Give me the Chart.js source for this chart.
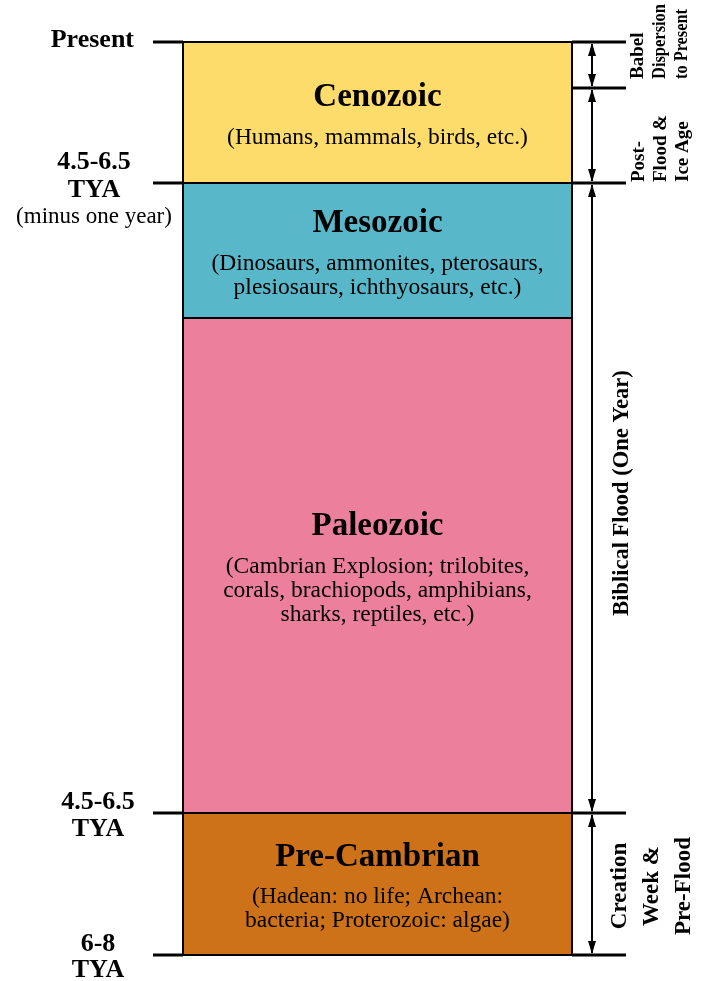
<!DOCTYPE html>
<html>
<head>
<meta charset="utf-8">
<script src="https://cdn.jsdelivr.net/npm/chart.js@4/dist/chart.umd.min.js"></script>
<style>
  html, body { margin: 0; padding: 0; background: #fff; }
  canvas { display: block; }
</style>
</head>
<body>
<canvas id="geo" width="705" height="981"></canvas>
<script>
// eras, listed bottom to top (stack order)
const eraNames = ['Pre-Cambrian', 'Paleozoic', 'Mesozoic', 'Cenozoic'];
const eraThickness = [142, 495, 135, 141];
const eraNotes = [
  ['(Hadean: no life; Archean:', 'bacteria; Proterozoic: algae)'],
  ['(Cambrian Explosion; trilobites,', 'corals, brachiopods, amphibians,', 'sharks, reptiles, etc.)'],
  ['(Dinosaurs, ammonites, pterosaurs,', 'plesiosaurs, ichthyosaurs, etc.)'],
  ['(Humans, mammals, birds, etc.)']
];
const eraColors = ['#CD7219', '#EC809C', '#58B7C9', '#FDDC6B'];

// age labels on the left, at stack positions
const ageTicks = [0, 142, 772, 913];
const ageLabels = [['6-8', 'TYA'], ['4.5-6.5', 'TYA'], ['4.5-6.5', 'TYA', '(minus one year)'], ['Present']];

// biblical events on the right
const eventNames = [
  ['Creation', 'Week &', 'Pre-Flood'],
  ['Biblical Flood (One Year)'],
  ['Post-', 'Flood &', 'Ice Age'],
  ['Babel', 'Dispersion', 'to Present']
];
const eventStart = [0, 142, 772, 867];
const eventEnd = [142, 772, 867, 913];

const SERIF = '"Liberation Serif", "Times New Roman", serif';
const TOTAL = eraThickness.reduce((a, b) => a + b, 0);

const overlay = {
  id: 'overlay',
  afterDatasetsDraw(chart) {
    const ctx = chart.ctx;
    const y = chart.scales.y;
    const area = chart.chartArea;
    const L = area.left, R = area.right, mid = (L + R) / 2;
    ctx.save();
    ctx.fillStyle = '#000';
    ctx.strokeStyle = '#000';

    // era boundaries + outline
    ctx.lineWidth = 2;
    let acc = 0;
    const bounds = [0];
    eraThickness.forEach(v => { acc += v; bounds.push(acc); });
    bounds.forEach(b => {
      const py = Math.round(y.getPixelForValue(b));
      ctx.beginPath(); ctx.moveTo(L, py); ctx.lineTo(R, py); ctx.stroke();
    });
    ctx.beginPath();
    ctx.moveTo(L, y.getPixelForValue(0)); ctx.lineTo(L, y.getPixelForValue(TOTAL));
    ctx.moveTo(R, y.getPixelForValue(0)); ctx.lineTo(R, y.getPixelForValue(TOTAL));
    ctx.stroke();

    // era text
    ctx.textAlign = 'center';
    ctx.textBaseline = 'middle';
    eraNames.forEach((name, i) => {
      const c = (y.getPixelForValue(bounds[i]) + y.getPixelForValue(bounds[i + 1])) / 2;
      const n = eraNotes[i].length;
      const top = c - (40 + 24 * (n - 1)) / 2 + 5;
      ctx.font = 'bold 33px ' + SERIF;
      ctx.fillText(name, mid, top);
      ctx.font = '23.5px ' + SERIF;
      eraNotes[i].forEach((line, k) => ctx.fillText(line, mid, top + 40 + 24 * k));
    });

    // left age ticks + labels
    ctx.lineWidth = 3;
    const leftLayout = [
      { x: 98, dy: [-11, 15], align: 'center' },
      { x: 98, dy: [-11, 16], align: 'center' },
      { x: 94, dy: [-21, 7, 34], align: 'center' },
      { x: 134, dy: [-2], align: 'right' }
    ];
    ageTicks.forEach((t, i) => {
      const py = y.getPixelForValue(t);
      ctx.beginPath(); ctx.moveTo(L - 30, py); ctx.lineTo(L, py); ctx.stroke();
      const lay = leftLayout[i];
      ctx.textAlign = lay.align;
      ageLabels[i].forEach((line, k) => {
        ctx.font = line.startsWith('(') ? '23px ' + SERIF : 'bold 26px ' + SERIF;
        ctx.fillText(line, lay.x, py + lay.dy[k]);
      });
    });

    // right event ticks, arrows and labels
    const ax = R + 20;
    const rTicks = new Set(eventStart.concat(eventEnd));
    rTicks.forEach(t => {
      const py = y.getPixelForValue(t);
      ctx.beginPath(); ctx.moveTo(R, py); ctx.lineTo(R + 54, py); ctx.stroke();
    });
    const head = (px, py, dir) => {
      ctx.beginPath();
      ctx.moveTo(px, py);
      ctx.lineTo(px - 4, py + dir * 13);
      ctx.lineTo(px + 4, py + dir * 13);
      ctx.closePath();
      ctx.fill();
    };
    ctx.lineWidth = 2;
    eventStart.forEach((s, i) => {
      const p0 = y.getPixelForValue(s), p1 = y.getPixelForValue(eventEnd[i]);
      ctx.beginPath(); ctx.moveTo(ax, p0 - 2); ctx.lineTo(ax, p1 + 2); ctx.stroke();
      head(ax, p0 - 1, -1);
      head(ax, p1 + 1, 1);
    });

    // maxW squeezes the crowded top column like the original
    const rightLayout = [
      { x: 620, dx: 32, size: 23, align: 'center', at: 'mid', off: 2 },
      { x: 622, dx: 0, size: 22.5, align: 'center', at: 'mid', off: -5 },
      { x: 639, dx: 22, size: 19, align: 'left', at: 'low', off: -1 },
      { x: 638, dx: 22, size: 19, align: 'left', at: 'low', off: -9, maxW: [48, 75, 70] }
    ];
    eventNames.forEach((lines, i) => {
      const lay = rightLayout[i];
      const p0 = y.getPixelForValue(eventStart[i]), p1 = y.getPixelForValue(eventEnd[i]);
      const py = (lay.at === 'mid' ? (p0 + p1) / 2 : p0) + lay.off;
      ctx.font = 'bold ' + lay.size + 'px ' + SERIF;
      ctx.textAlign = lay.align;
      lines.forEach((line, k) => {
        ctx.save();
        ctx.translate(lay.x + lay.dx * k, py);
        ctx.rotate(-Math.PI / 2);
        if (lay.maxW) ctx.fillText(line, 0, 0, lay.maxW[k]);
        else ctx.fillText(line, 0, 0);
        ctx.restore();
      });
    });
    ctx.restore();
  }
};

new Chart(document.getElementById('geo'), {
  type: 'bar',
  data: {
    labels: ['Geologic column'],
    datasets: eraNames.map((name, i) => ({
      label: name,
      data: [eraThickness[i]],
      backgroundColor: eraColors[i],
      borderWidth: 0,
      categoryPercentage: 1,
      barPercentage: 1
    }))
  },
  options: {
    responsive: false,
    animation: false,
    devicePixelRatio: 1,
    layout: { padding: { left: 183, right: 133, top: 42, bottom: 26 } },
    plugins: { legend: { display: false }, tooltip: { enabled: false } },
    scales: {
      x: { stacked: true, display: false },
      y: { stacked: true, display: false, min: 0, max: TOTAL }
    }
  },
  plugins: [overlay]
});
</script>
</body>
</html>
